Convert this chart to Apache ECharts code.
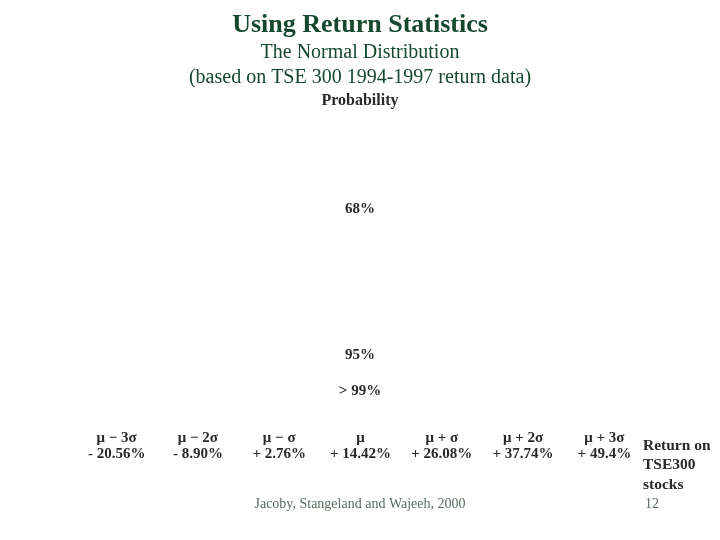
<!DOCTYPE html>
<html>
<head>
<meta charset="utf-8">
<script src="https://cdn.jsdelivr.net/npm/echarts@6/dist/echarts.min.js"></script>
<style>
  html, body { margin: 0; padding: 0; background: #fff; }
  #chart { width: 720px; height: 540px; }
</style>
</head>
<body>
<div id="chart"></div>
<script>
// positions on the return axis (mu +/- k sigma)
const categories = ['μ − 3σ', 'μ − 2σ', 'μ − σ', 'μ', 'μ + σ', 'μ + 2σ', 'μ + 3σ']
const returnLabels = ['- 20.56%', '- 8.90%', '+ 2.76%', '+ 14.42%', '+ 26.08%', '+ 37.74%', '+ 49.4%']
const probabilityLabels = ['68%', '95%', '> 99%']

const serif = '"Liberation Serif", "DejaVu Serif", serif'
const green = '#15482f'
const ink = '#2a2a2a'

const chart = echarts.init(document.getElementById('chart'))

const options = {
  backgroundColor: '#fff',
  title: [{
    text: 'Using Return Statistics',
    left: 'center',
    top: 7,
    textStyle: { fontFamily: serif, fontSize: 26, fontWeight: 'bold', color: green }
  }, {
    text: 'The Normal Distribution\n(based on TSE 300 1994-1997 return data)',
    left: 'center',
    top: 35,
    textStyle: { fontFamily: serif, fontSize: 20, fontWeight: 'normal', color: green, lineHeight: 25 }
  }, {
    text: 'Probability',
    left: 'center',
    top: 88,
    textStyle: { fontFamily: serif, fontSize: 16, fontWeight: 'bold', color: ink }
  }],
  grid: {
    left: 76,
    right: 75,
    top: 120,
    bottom: 115
  },
  xAxis: {
    type: 'category',
    data: categories,
    axisLine: { show: false },
    axisTick: { show: false },
    axisLabel: {
      margin: 5,
      interval: 0,
      formatter: (val, idx) => '{a|' + val + '}\n{b|' + returnLabels[idx] + '}',
      rich: {
        a: { fontFamily: serif, fontSize: 15, fontWeight: 'bold', color: ink, lineHeight: 16 },
        b: { fontFamily: serif, fontSize: 15, fontWeight: 'bold', color: ink, lineHeight: 16 }
      }
    }
  },
  yAxis: {
    type: 'value',
    show: false,
    min: 0,
    max: 1
  },
  series: [],
  graphic: [{
    type: 'text',
    left: 'center',
    top: 202,
    style: { text: probabilityLabels[0], font: 'bold 15px ' + serif, fill: ink }
  }, {
    type: 'text',
    left: 'center',
    top: 348,
    style: { text: probabilityLabels[1], font: 'bold 15px ' + serif, fill: ink }
  }, {
    type: 'text',
    left: 'center',
    top: 384,
    style: { text: probabilityLabels[2], font: 'bold 15px ' + serif, fill: ink }
  }, {
    type: 'text',
    left: 643,
    top: 436,
    style: { text: 'Return on\nTSE300\nstocks', font: 'bold 15.5px ' + serif, fill: ink, lineHeight: 19.5 }
  }, {
    type: 'text',
    left: 'center',
    top: 497,
    style: { text: 'Jacoby, Stangeland and Wajeeh, 2000', font: '14px ' + serif, fill: '#5b6b5e' }
  }, {
    type: 'text',
    left: 645,
    top: 497,
    style: { text: '12', font: '14px ' + serif, fill: '#5b6b5e' }
  }]
}

chart.setOption(options)
</script>
</body>
</html>
